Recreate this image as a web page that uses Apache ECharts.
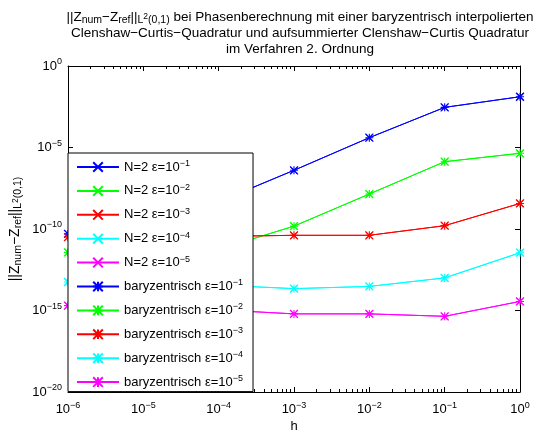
<!DOCTYPE html>
<html>
<head>
<meta charset="utf-8">
<script src="https://cdn.jsdelivr.net/npm/echarts@6/dist/echarts.min.js"></script>
<style>
    html, body {margin: 0; padding: 0; background: #fff;}
    #chart {width: 536px; height: 434px;}
</style>
</head>
<body>
<div id="chart"></div>
<script>
// Schrittweiten h
var hValues = [1e-6, 1e-5, 1e-4, 1e-3, 1e-2, 1e-1, 1];

// Achsenbeschriftung
var xTickValues = [1e-6, 1e-5, 1e-4, 1e-3, 1e-2, 1e-1, 1];
var yTickValues = [1e-20, 1e-15, 1e-10, 1e-5, 1];

// epsilon-Exponenten fuer die Legende
var epsLabels = ['−1', '−2', '−3', '−4', '−5'];
var colors = ['#0000ff', '#00ff00', '#ff0000', '#00ffff', '#ff00ff'];

// Fehler N=2 (liegen unter den baryzentrischen Werten)
var errN2_1 = [5.0e-11, 5.0e-10, 4.7e-9, 4.0e-7, 4.0e-5, 2.9e-3, 1.3e-2];
var errN2_2 = [3.7e-12, 4.5e-12, 5.6e-12, 1.5e-10, 1.4e-8, 1.35e-6, 4.4e-6];
var errN2_3 = [3.2e-11, 3.4e-11, 3.5e-11, 4.1e-11, 4.1e-11, 1.6e-10, 3.7e-9];
var errN2_4 = [5.6e-14, 4.5e-14, 3.6e-14, 2.2e-14, 3.0e-14, 1.0e-13, 3.5e-12];
var errN2_5 = [2.0e-15, 1.4e-15, 1.1e-15, 6.2e-16, 6.2e-16, 4.4e-16, 3.6e-15];

// Fehler baryzentrisch
var errBary_1 = [5.0e-11, 5.0e-10, 4.7e-9, 4.0e-7, 4.0e-5, 2.9e-3, 1.3e-2];
var errBary_2 = [3.7e-12, 4.5e-12, 5.6e-12, 1.5e-10, 1.4e-8, 1.35e-6, 4.4e-6];
var errBary_3 = [3.2e-11, 3.4e-11, 3.5e-11, 4.1e-11, 4.1e-11, 1.6e-10, 3.7e-9];
var errBary_4 = [5.6e-14, 4.5e-14, 3.6e-14, 2.2e-14, 3.0e-14, 1.0e-13, 3.5e-12];
var errBary_5 = [2.0e-15, 1.4e-15, 1.1e-15, 6.2e-16, 6.2e-16, 4.4e-16, 3.6e-15];

var errN2 = [errN2_1, errN2_2, errN2_3, errN2_4, errN2_5];
var errBary = [errBary_1, errBary_2, errBary_3, errBary_4, errBary_5];

var FONT = "'Liberation Sans', Arial, sans-serif";
var starPath = 'path://M0,0L10,10M10,0L0,10M5,0L5,10M0,5L10,5';
var crossPath = 'path://M0,0L10,10M10,0L0,10';

// kleine Striche bei 2..9 jeder Dekade
var xMinorTicks = [];
for (var d = 0; d < 6; d++) {
    for (var m = 2; m <= 9; m++) {
        xMinorTicks.push(m * xTickValues[d]);
    }
}

function pairs(ys) {
    var out = [];
    for (var i = 0; i < hValues.length; i++) {
        out.push([hValues[i], ys[i]]);
    }
    return out;
}

function makeSeries(name, ys, color, symbol, size) {
    return {
        name: name,
        type: 'line',
        data: pairs(ys),
        symbol: symbol,
        symbolSize: size,
        showAllSymbol: true,
        lineStyle: {color: color, width: 1},
        itemStyle: {color: color, borderColor: color, borderWidth: 1.1},
        emphasis: {disabled: true},
        animation: false
    };
}

var series = [];
for (var i = 0; i < 5; i++) {
    series.push(makeSeries('N=2 ε=10^' + epsLabels[i], errN2[i], colors[i], crossPath, 7));
}
for (var j = 0; j < 5; j++) {
    series.push(makeSeries('baryzentrisch ε=10^' + epsLabels[j], errBary[j], colors[j], starPath, 8));
}

function powLabel(value) {
    var e = Math.round(Math.log(value) / Math.LN10);
    var s = e < 0 ? '−' + (-e) : '' + e;
    return '{b|10}{s|' + s + '}';
}

var tickRich = {
    b: {fontSize: 13, fontFamily: FONT, color: '#000'},
    s: {fontSize: 9, fontFamily: FONT, color: '#000', verticalAlign: 'bottom', padding: [0, 0, 8, 0]}
};

var nameRich = {
    sub: {fontSize: 10.5, fontFamily: FONT, color: '#000', verticalAlign: 'top', padding: [6, 0, 0, 0]},
    ss: {fontSize: 8.5, fontFamily: FONT, color: '#000', verticalAlign: 'bottom', padding: [0, 0, 4, 0]}
};

var axisLineStyle = {show: true, lineStyle: {color: '#000', width: 1}};

function logAxis(extra) {
    var ax = {
        type: 'log',
        logBase: 10,
        axisLine: axisLineStyle,
        splitLine: {show: false},
        axisLabel: {show: false}
    };
    for (var k in extra) ax[k] = extra[k];
    return ax;
}

function gridRect() {
    return {
        left: 68, right: 16, top: 66, bottom: 42,
        containLabel: false,
        outerBoundsMode: 'none',
        show: false
    };
}

var myChart = echarts.init(document.getElementById('chart'));
var option = {
    backgroundColor: '#fff',
    title: {
        left: 295,
        top: 4,
        textAlign: 'center',
        text: '||Z{sub|num}−Z{sub|ref}||{sub|L}{ss|2}{sub|(0,1)} bei Phasenberechnung mit einer baryzentrisch interpolierten\n' +
              'Clenshaw−Curtis−Quadratur und aufsummierter Clenshaw−Curtis Quadratur\n' +
              'im Verfahren 2. Ordnung',
        textStyle: {
            fontSize: 13.5,
            fontWeight: 'normal',
            fontFamily: FONT,
            color: '#000',
            lineHeight: 16,
            rich: nameRich
        }
    },
    legend: {
        orient: 'vertical',
        left: 68,
        top: 153,
        padding: [6, 10, 3, 8],
        itemWidth: 42,
        itemHeight: 12,
        itemGap: 9.4,
        backgroundColor: '#fff',
        borderColor: '#000',
        borderWidth: 1,
        z: 10,
        formatter: function (name) {
            var k = name.indexOf('^');
            return name.substring(0, k) + '{sup|' + name.substring(k + 1) + '}';
        },
        textStyle: {
            fontSize: 13,
            fontFamily: FONT,
            color: '#000',
            rich: {
                sup: {fontSize: 9, fontFamily: FONT, color: '#000', verticalAlign: 'bottom', padding: [0, 0, 7, 0]}
            }
        }
    },
    grid: [gridRect(), gridRect()],
    xAxis: [
        logAxis({
            min: 1e-6, max: 1, position: 'bottom',
            name: 'h',
            nameLocation: 'middle',
            nameGap: 28,
            nameMoveOverlap: false,
            nameTextStyle: {fontSize: 13, fontFamily: FONT, color: '#000'},
            axisTick: {show: true, inside: true, length: 5, customValues: xTickValues, lineStyle: {color: '#000'}},
            axisLabel: {show: true, margin: 9, customValues: xTickValues, formatter: powLabel, rich: tickRich}
        }),
        logAxis({
            min: 1e-6, max: 1, position: 'top',
            axisTick: {show: true, inside: true, length: 5, customValues: xTickValues, lineStyle: {color: '#000'}}
        }),
        logAxis({
            gridIndex: 1, min: 1e-6, max: 1, position: 'bottom',
            axisLine: {show: false},
            axisTick: {show: true, inside: true, length: 3, customValues: xMinorTicks, lineStyle: {color: '#000'}}
        }),
        logAxis({
            gridIndex: 1, min: 1e-6, max: 1, position: 'top',
            axisLine: {show: false},
            axisTick: {show: true, inside: true, length: 3, customValues: xMinorTicks, lineStyle: {color: '#000'}}
        })
    ],
    yAxis: [
        logAxis({
            min: 1e-20, max: 1, position: 'left',
            name: '||Z{sub|num}−Z{sub|ref}||{sub|L}{ss|2}{sub|(0,1)}',
            nameLocation: 'middle',
            nameRotate: 90,
            nameGap: 44,
            nameMoveOverlap: false,
            nameTextStyle: {fontSize: 14, fontFamily: FONT, color: '#000', rich: nameRich},
            axisTick: {show: true, inside: true, length: 5, customValues: yTickValues, lineStyle: {color: '#000'}},
            axisLabel: {show: true, margin: 6, customValues: yTickValues, formatter: powLabel, rich: tickRich}
        }),
        logAxis({
            min: 1e-20, max: 1, position: 'right',
            axisTick: {show: true, inside: true, length: 5, customValues: yTickValues, lineStyle: {color: '#000'}}
        }),
        logAxis({
            gridIndex: 1, min: 1e-20, max: 1, position: 'left',
            axisLine: {show: false},
            axisTick: {show: false}
        })
    ],
    series: series
};
myChart.setOption(option);
</script>
</body>
</html>
